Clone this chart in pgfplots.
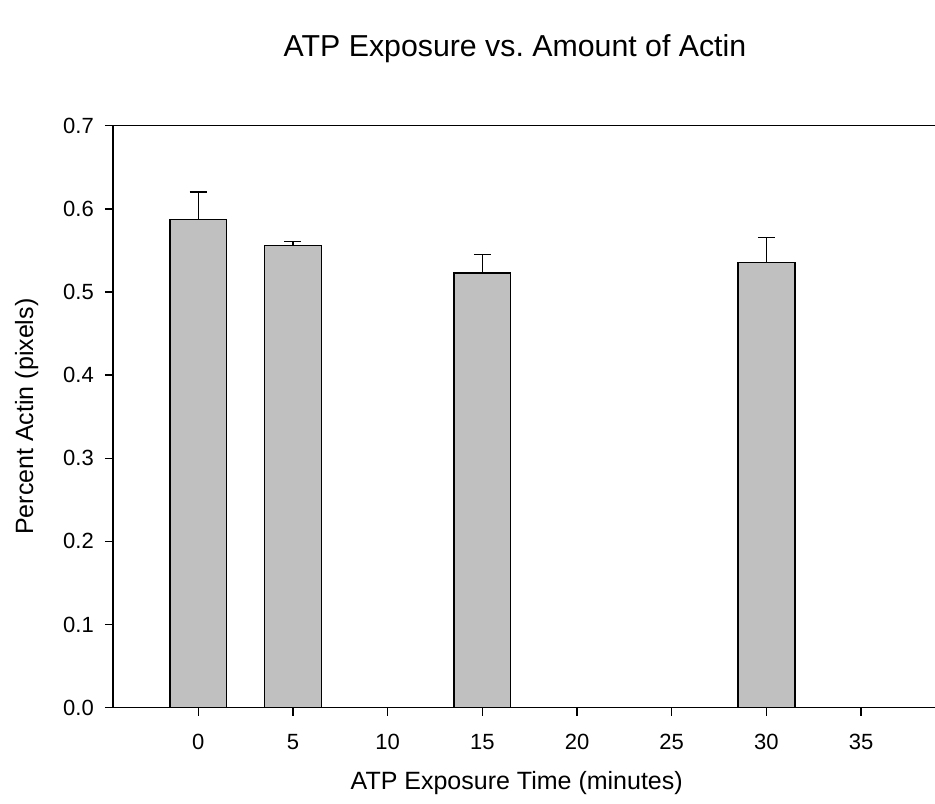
\documentclass[border=0pt]{standalone}
\usepackage{fontspec}
\setmainfont{Liberation Sans}
\usepackage{pgfplots}
\pgfplotsset{compat=1.18}
\definecolor{BarGray}{RGB}{192,192,192}

\begin{document}
\begin{tikzpicture}
  % page = 935 x 804 bp, axis box corner at the origin
  \useasboundingbox (-113bp,-96.3bp) rectangle (822bp,707.7bp);
  \begin{axis}[
    at={(0,0)}, anchor=south west,
    scale only axis,
    width=842.8bp, height=582bp,
    xmin=-4.5, xmax=40,
    ymin=0, ymax=0.7,
    xtick={0,5,...,35},
    ytick={0,0.1,...,0.7},
    tick pos=left,
    tick align=outside,
    major tick length=8bp,
    axis line style={line width=1.5bp},
    every tick/.style={black,line width=1.4bp},
    /pgf/number format/assume math mode=true,
    yticklabel style={/pgf/number format/fixed,/pgf/number format/fixed zerofill,/pgf/number format/precision=1},
    tick label style={font=\fontsize{22bp}{26bp}\selectfont},
    yticklabel style={anchor=east,inner sep=0pt,xshift=-11bp},
    xticklabel style={anchor=north,inner sep=0pt,yshift=-18bp},
    label style={font=\fontsize{25bp}{30bp}\selectfont},
    xlabel={ATP Exposure Time (minutes)},
    ylabel={Percent Actin (pixels)},
    xlabel style={at={(rel axis cs:0.479,-0.141)},anchor=base},
    ylabel style={at={(rel axis cs:-0.0949,0.5)},anchor=base},
    title={ATP Exposure vs.\ Amount of Actin},
    title style={font=\fontsize{30.3bp}{36bp}\selectfont,at={(rel axis cs:0.477,1.108)},anchor=base},
    ybar, bar width=3, bar shift=0pt,
  ]
    \addplot[fill=BarGray,draw=black,line width=1.4bp,
      error bars/.cd, y dir=plus, y explicit,
      error mark options={rotate=90,mark size=8.5bp,line width=1.4bp},
      error bar style={line width=1.4bp}]
      coordinates {
        (0,0.5874)  +- (0,0.0329)
        (5,0.5557)  +- (0,0.0048)
        (15,0.5228) +- (0,0.0221)
        (30,0.5357) +- (0,0.0301)
      };
  \end{axis}
\end{tikzpicture}
\end{document}
